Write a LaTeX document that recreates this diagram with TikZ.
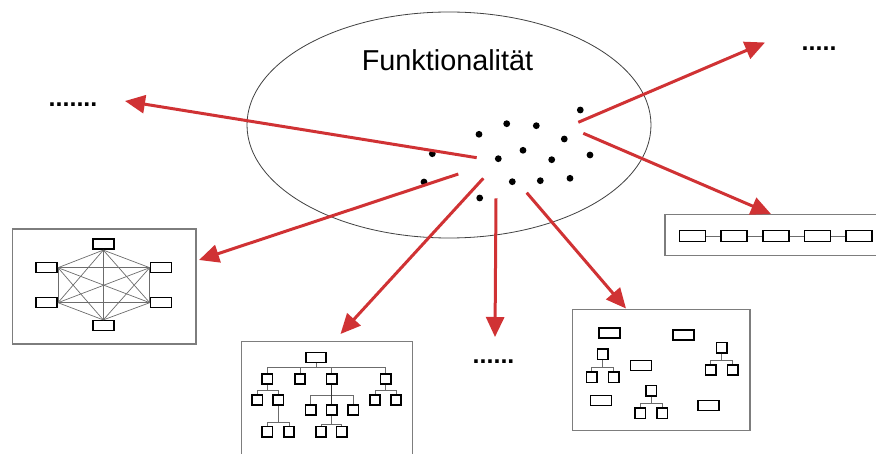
\documentclass[tikz,border=0pt]{standalone}
\usepackage{fontspec}
\setmainfont{Liberation Sans}
\usetikzlibrary{arrows.meta,shapes.geometric}
\definecolor{arrowred}{RGB}{208,50,52}
\definecolor{framegray}{RGB}{125,125,125}
\begin{document}
\begin{tikzpicture}[x=1pt,y=-1pt,
 sr/.style={draw=black,line width=1.6pt,fill=white,minimum width=21pt,minimum height=10pt,inner sep=0pt},
 sq/.style={draw=black,line width=1.6pt,fill=white,minimum width=10.5pt,minimum height=10.5pt,inner sep=0pt},
 lr/.style={sr,minimum width=26pt,minimum height=11pt},
 link/.style={draw=gray!85!black,line width=0.8pt},
 frame/.style={draw=framegray,line width=1.1pt},
 redarrow/.style={draw=arrowred,line width=3pt,-{Triangle[length=20pt,width=18pt]}},
 hubdot/.style={circle,fill=black,minimum size=6.8pt,inner sep=0pt},
 ell/.style={ellipse,draw=black!75,line width=0.8pt,minimum width=404pt,minimum height=226pt,inner sep=0pt},
 title/.style={inner sep=0pt,anchor=base,font=\fontsize{28.8}{32}\selectfont},
 more/.style={inner sep=0pt,anchor=base west,font=\bfseries\fontsize{25}{30}\selectfont}]

\useasboundingbox (0,0) rectangle (876,454);

% ellipse and title
\node[ell] (func) at (449,125) {};
\node[title] (functext) at (447.5,71) {Funktionalität};

% hub dots
\foreach \n/\x/\y in {d1/580.3/110, d2/506.7/123.7, d3/536.3/125.7, d4/479/134.3,
  d5/564.3/139, d6/432.3/153.7, d7/523/150.3, d8/498.3/158.7, d9/551.7/159.7,
  d10/590/155, d11/424/182, d12/512.3/181.7, d13/540.3/180.7, d14/570/178.3, d15/479.7/198}
  \node[hubdot] (\n) at (\x,\y) {};

% "more" labels
\node[more] (moreleft) at (48.5,107) {.......};
\node[more] (moreright) at (801.5,50.6) {.....};
\node[more] (morebottom) at (472.5,363) {......};

% ---------- left box: fully meshed ----------
\draw[frame] (12.5,229) rectangle (196,344);
\node[sr] (mt) at (103.3,244.3) {};
\node[sr] (ml1) at (46.7,267.7) {};
\node[sr] (mr1) at (161,267.7) {};
\node[sr] (ml2) at (46.7,302.7) {};
\node[sr] (mr2) at (161,302.7) {};
\node[sr] (mb) at (103.3,325.7) {};
\foreach \a/\b in {mt.south/ml1.east, mt.south/mr1.west, mt.south/ml2.east, mt.south/mr2.west, mt.south/mb.north,
  ml1.east/mr1.west, ml1.east/ml2.east, ml1.east/mr2.west, ml1.east/mb.north,
  mr1.west/ml2.east, mr1.west/mr2.west, mr1.west/mb.north,
  ml2.east/mr2.west, ml2.east/mb.north, mr2.west/mb.north}
  \draw[link,line width=0.7pt] (\a) -- (\b);

% ---------- bottom-left box: hierarchy ----------
\draw[frame] (241.7,470) -- (241.7,341.7) -- (412.7,341.7) -- (412.7,470);
\node[sr,minimum width=20pt] (h0) at (316,357.7) {};
\node[sq] (h1) at (267.3,379) {};
\node[sq] (h2) at (300,379) {};
\node[sq] (h3) at (331.7,379) {};
\node[sq] (h4) at (385.7,379) {};
\node[sq] (h11) at (257.3,400) {};
\node[sq] (h12) at (278.3,400) {};
\node[sq] (h121) at (267.3,431.7) {};
\node[sq] (h122) at (289,431.7) {};
\node[sq] (h31) at (310.7,410) {};
\node[sq] (h32) at (331.7,410) {};
\node[sq] (h33) at (353.3,410) {};
\node[sq] (h321) at (321,431.7) {};
\node[sq] (h322) at (341.7,431.7) {};
\node[sq] (h41) at (375,400) {};
\node[sq] (h42) at (396,400) {};
\foreach \c in {h1,h2,h3,h4} \draw[link] (h0.south) -- (h0.south |- 0,367.3) -| (\c.north);
\foreach \c in {h11,h12} \draw[link] (h1.south) -- (h1.south |- 0,390.7) -| (\c.north);
\foreach \c in {h121,h122} \draw[link] (h12.south) -- (h12.south |- 0,422.7) -| (\c.north);
\foreach \c in {h31,h32,h33} \draw[link] (h3.south) -- (h3.south |- 0,395) -| (\c.north);
\foreach \c in {h321,h322} \draw[link] (h32.south) -- (h32.south |- 0,424) -| (\c.north);
\foreach \c in {h41,h42} \draw[link] (h4.south) -- (h4.south |- 0,390.7) -| (\c.north);
\draw[draw=black!80,line width=1.1pt] (h3.south) -- (h32.north);

% ---------- bottom-right box: scattered ----------
\draw[frame] (572.3,309.3) rectangle (750,430.7);
\node[sr] (s1) at (609.3,333.3) {};
\node[sr] (s2) at (683.3,335.3) {};
\node[sr] (s3) at (641,365.7) {};
\node[sr] (s4) at (601,400.7) {};
\node[sr] (s5) at (708.3,405.7) {};
\node[sq] (ta) at (602.7,354.3) {};
\node[sq] (ta1) at (591.7,377.3) {};
\node[sq] (ta2) at (613.7,377.3) {};
\node[sq] (tb) at (721.7,347.7) {};
\node[sq] (tb1) at (710.7,370) {};
\node[sq] (tb2) at (732.7,370) {};
\node[sq] (tc) at (651.3,390.7) {};
\node[sq] (tc1) at (640.3,413.3) {};
\node[sq] (tc2) at (662.3,413.3) {};
\foreach \c in {ta1,ta2} \draw[link] (ta.south) -- (ta.south |- 0,367.7) -| (\c.north);
\foreach \c in {tb1,tb2} \draw[link] (tb.south) -- (tb.south |- 0,360.3) -| (\c.north);
\foreach \c in {tc1,tc2} \draw[link] (tc.south) -- (tc.south |- 0,403.3) -| (\c.north);

% ---------- right box: chain ----------
\draw[frame] (880,214.3) -- (665,214.3) -- (665,255.7) -- (880,255.7);
\node[lr] (c1) at (692.3,236) {};
\node[lr] (c2) at (734,236) {};
\node[lr] (c3) at (775.7,236) {};
\node[lr] (c4) at (817.3,236) {};
\node[lr] (c5) at (859,236) {};
\draw[link] (c1) -- (c2);
\draw[link] (c2) -- (c3);
\draw[link] (c3) -- (c4);
\draw[link] (c4) -- (c5);

% ---------- red arrows ----------
\coordinate (s_ul) at (476.7,157.7);  \coordinate (e_ul) at (125,101);
\coordinate (s_ur) at (578.3,122.3);  \coordinate (e_ur) at (765,42.5);
\coordinate (s_r)  at (583.3,133.3);  \coordinate (e_r)  at (771,214);
\coordinate (s_l)  at (458.3,174);    \coordinate (e_l)  at (199,260);
\coordinate (s_bl) at (483.3,178.3);  \coordinate (e_bl) at (340.5,334);
\coordinate (s_b)  at (496,198.3);    \coordinate (e_b)  at (495,337);
\coordinate (s_br) at (526.7,192.7);  \coordinate (e_br) at (626,308.5);
\foreach \a/\b in {s_ul/e_ul, s_ur/e_ur, s_r/e_r, s_l/e_l, s_bl/e_bl, s_b/e_b, s_br/e_br}
  \draw[redarrow] (\a) -- (\b);
\end{tikzpicture}
\end{document}
